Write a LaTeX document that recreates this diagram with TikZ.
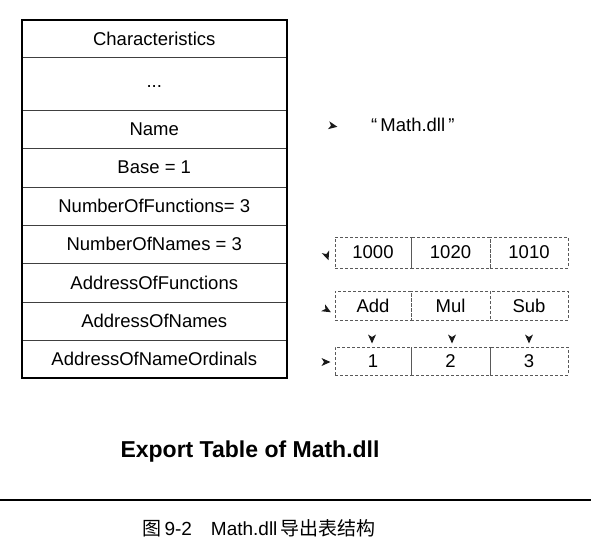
\documentclass[tikz,border=0pt]{standalone}
\usepackage{fontspec}
\setmainfont{Liberation Sans}
\newfontfamily\cjk{Noto Sans CJK SC}
\begin{document}
\begin{tikzpicture}[x=1pt,y=-1pt,
  font=\fontsize{18.5}{22}\selectfont,
  rowbox/.style={minimum width=265.5pt,inner sep=0pt,outer sep=0pt},
  sepline/.style={draw=black!75,line width=0.6pt},
  cell/.style={draw=black!65,densely dashed,line width=0.6pt,inner sep=0pt,outer sep=0pt,minimum width=#1},
  ahd/.style={fill=black!90}
]
\useasboundingbox (0,0) rectangle (591,552);

% left table
\node[rowbox,minimum height=37pt] (r1) at (154.25,38.5) {Characteristics};
\node[rowbox,minimum height=53pt] (r2) at (154.25,83.5) {\smash{\raisebox{-4pt}{...}}};
\node[rowbox,minimum height=38pt] (r3) at (154.25,129) {Name};
\node[rowbox,minimum height=39pt] (r4) at (154.25,167.5) {Base = 1};
\node[rowbox,minimum height=38pt] (r5) at (154.25,206) {NumberOfFunctions= 3};
\node[rowbox,minimum height=38pt] (r6) at (154.25,244) {NumberOfNames = 3};
\node[rowbox,minimum height=39pt] (r7) at (154.25,282.5) {AddressOfFunctions};
\node[rowbox,minimum height=38pt] (r8) at (154.25,321) {AddressOfNames};
\node[rowbox,minimum height=38pt] (r9) at (154.25,359) {AddressOfNameOrdinals};
\foreach \n in {r1,r2,r3,r4,r5,r6,r7,r8}
  \draw[sepline] (\n.south west) -- (\n.south east);
\draw[line width=2pt] (r1.north west) rectangle (r9.south east);

% name string
\node[anchor=west,inner sep=0pt] (mname) at (371,125) {“\,Math.dll\,”};

% functions row
\node[cell=76pt,minimum height=31pt] (f1) at (373,252.5) {1000};
\node[cell=79pt,minimum height=31pt] (f2) at (450.5,252.5) {1020};
\node[cell=78pt,minimum height=31pt] (f3) at (529,252.5) {1010};
% names row
\node[cell=76pt,minimum height=29pt] (n1) at (373,305.5) {Add};
\node[cell=79pt,minimum height=29pt] (n2) at (450.5,305.5) {Mul};
\node[cell=78pt,minimum height=29pt] (n3) at (529,305.5) {Sub};
% ordinals row
\node[cell=76pt,minimum height=28pt] (o1) at (373,361) {1};
\node[cell=79pt,minimum height=28pt] (o2) at (450.5,361) {2};
\node[cell=78pt,minimum height=28pt] (o3) at (529,361) {3};

% arrowheads (their lines are not shown)
\fill[ahd] (337.4,126.8) -- (329.3,121.3) -- (331.0,125.65) -- (327.9,129.2) -- cycle;
\fill[ahd] (328.5,260.2) -- (329.2,250.4) -- (326.3,254.1) -- (321.7,253.1) -- cycle;
\fill[ahd] (330.9,312.25) -- (325.1,304.3) -- (325.3,309) -- (321.1,311.2) -- cycle;
\fill[ahd] (330.5,362) -- (321.5,358) -- (324,362) -- (321.5,366) -- cycle;
\foreach \xx in {372,452,529}
  \fill[ahd] (\xx,343.5) -- (\xx+4,334.5) -- (\xx,337) -- (\xx-4,334.5) -- cycle;

% title
\node[font=\bfseries\fontsize{23}{27}\selectfont] (title) at (250,452) {Export Table of Math.dll};
\draw[line width=1.5pt] (0,500) -- (591,500);
\node[font=\fontsize{19}{23}\selectfont] (cap) at (259,528) {{\cjk 图}\,9-2\quad Math.dll\,{\cjk 导出表结构}};
\end{tikzpicture}
\end{document}
